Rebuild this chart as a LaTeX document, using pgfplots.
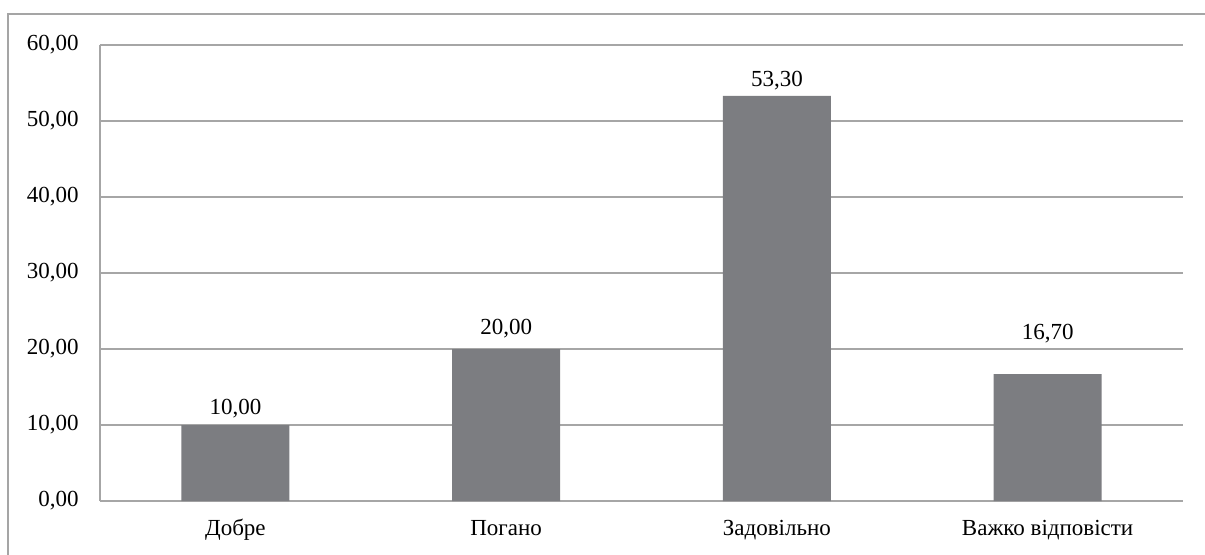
\documentclass[border=0pt]{standalone}
\usepackage{pgfplots}
\pgfplotsset{compat=1.18}
\usepackage{fontspec}
\setmainfont{Liberation Serif}

\definecolor{barfill}{RGB}{124,125,129}
\definecolor{gridc}{RGB}{166,166,166}
\definecolor{framec}{RGB}{165,165,165}

% off = gap (pt) between bar top and label baseline
\pgfplotstableread{
x y off
0 10.0 5.3
1 20.0 7.5
2 53.3 4.8
3 16.7 17.5
}\survey

\begin{document}
\begin{tikzpicture}
\clip (-50pt,-26.5pt) rectangle (552.5pt,250.5pt);
\draw[framec, line width=0.65pt] (-46pt,-60pt) rectangle (600pt,243.5pt);
\begin{axis}[
  at={(0,0)}, anchor=south west,
  scale only axis, width=541.5pt, height=228pt,
  xmin=-0.5, xmax=3.5, ymin=0, ymax=60,
  ytick={0,10,...,60},
  xtick=data,
  xticklabels={Добре,Погано,Задовільно,Важко відповісти},
  axis x line*=bottom, axis y line*=left,
  axis line style={gridc, line width=0.65pt, -},
  ymajorgrids, grid style={gridc, line width=0.65pt},
  major tick length=0pt,
  tick label style={font=\fontsize{11.5}{13}\selectfont},
  yticklabel style={inner sep=0pt, anchor=east, xshift=-10.5pt},
  xticklabel style={inner sep=0pt, anchor=base, yshift=-17pt},
  /pgf/number format/fixed,
  /pgf/number format/zerofill,
  /pgf/number format/precision=2,
  /pgf/number format/use comma,
  /pgf/number format/assume math mode=true,
  ybar, bar width=54pt,
  nodes near coords,
  visualization depends on={\thisrow{off} \as \myoff},
  nodes near coords style={font=\fontsize{11.5}{13}\selectfont, inner sep=0pt, anchor=base, yshift=\myoff pt, text=black},
]
\addplot[fill=barfill, draw=none] table[x=x, y=y] {\survey};
\end{axis}
\end{tikzpicture}
\end{document}
